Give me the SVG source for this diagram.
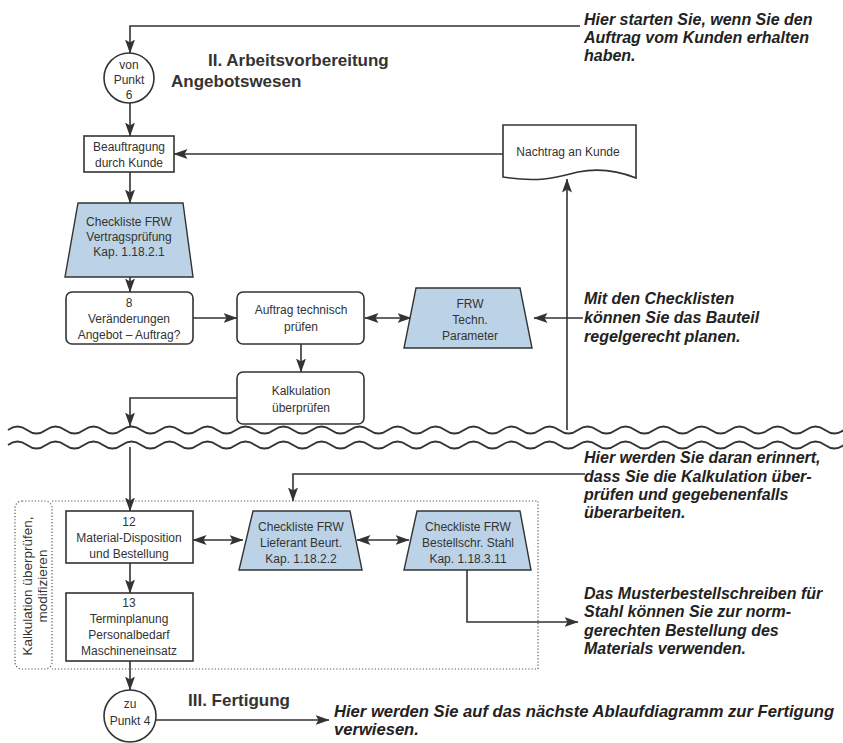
<svg xmlns="http://www.w3.org/2000/svg" width="843" height="743" viewBox="0 0 843 743">
<defs>
<style>
.ln{fill:none;stroke:#333;stroke-width:1.6}
.box{fill:#fff;stroke:#333;stroke-width:1.6}
.chk{fill:#bcd3e7;stroke:#333;stroke-width:1.4}
.dot{fill:none;stroke:#555;stroke-width:1.2;stroke-dasharray:1.2 2}
.t{font-family:"Liberation Sans",Arial,sans-serif;font-size:12px;fill:#333;text-anchor:middle}
.side{font-size:13.5px}
.h{font-family:"Liberation Sans",Arial,sans-serif;font-size:17px;font-weight:bold;fill:#333}
.n{font-family:"Liberation Sans",Arial,sans-serif;font-size:16px;font-weight:bold;font-style:italic;fill:#222}
.nb{font-size:16.6px}
.wave{fill:none;stroke:#333;stroke-width:1.8}
</style>
<marker id="ah" viewBox="0 0 14 10" refX="13.5" refY="5" markerWidth="14" markerHeight="10" markerUnits="userSpaceOnUse" orient="auto-start-reverse">
<path d="M0,0 L14,5 L0,10 L3,5 Z" fill="#333"/>
</marker>
</defs>
<rect width="843" height="743" fill="#fff"/>

<g id="waves">
<path class="wave" d="M8,430 q9.5,-7 19,0 t19,0 t19,0 t19,0 t19,0 t19,0 t19,0 t19,0 t19,0 t19,0 t19,0 t19,0 t19,0 t19,0 t19,0 t19,0 t19,0 t19,0 t19,0 t19,0 t19,0 t19,0 t19,0 t19,0 t19,0 t19,0 t19,0 t19,0 t19,0 t19,0 t19,0 t19,0 t19,0 t19,0 t19,0 t19,0 t19,0 t19,0 t19,0 t19,0 t19,0 t19,0 t19,0 t19,0"/>
<path class="wave" d="M8,445 q9.5,-7 19,0 t19,0 t19,0 t19,0 t19,0 t19,0 t19,0 t19,0 t19,0 t19,0 t19,0 t19,0 t19,0 t19,0 t19,0 t19,0 t19,0 t19,0 t19,0 t19,0 t19,0 t19,0 t19,0 t19,0 t19,0 t19,0 t19,0 t19,0 t19,0 t19,0 t19,0 t19,0 t19,0 t19,0 t19,0 t19,0 t19,0 t19,0 t19,0 t19,0 t19,0 t19,0 t19,0 t19,0"/>
</g>

<g id="dotted-area">
<rect class="dot" x="15" y="501" width="37" height="168" rx="7"/>
<path class="dot" d="M52,501 H538 V669 H52"/>
<text class="t side" transform="translate(32,586) rotate(-90)">Kalkulation überprüfen,</text>
<text class="t side" transform="translate(47,586) rotate(-90)">modifizieren</text>
</g>

<g id="connectors">
<path class="ln" d="M580,26 H130 V53" marker-end="url(#ah)"/>
<path class="ln" d="M130,103 V136" marker-end="url(#ah)"/>
<path class="ln" d="M503,154 H174" marker-end="url(#ah)"/>
<path class="ln" d="M130,172 V203" marker-end="url(#ah)"/>
<path class="ln" d="M130,277 V292" marker-end="url(#ah)"/>
<path class="ln" d="M193,318 H237" marker-end="url(#ah)"/>
<path class="ln" d="M365,318 H411" marker-start="url(#ah)" marker-end="url(#ah)"/>
<path class="ln" d="M583,318 H534" marker-end="url(#ah)"/>
<path class="ln" d="M301,344 V372" marker-end="url(#ah)"/>
<path class="ln" d="M237,398 H130 V426" marker-end="url(#ah)"/>
<path class="ln" d="M567,430 V179" marker-end="url(#ah)"/>
<path class="ln" d="M130,447 V511" marker-end="url(#ah)"/>
<path class="ln" d="M193,540 H243" marker-start="url(#ah)" marker-end="url(#ah)"/>
<path class="ln" d="M357,540 H409" marker-start="url(#ah)" marker-end="url(#ah)"/>
<path class="ln" d="M585,474 H293 V501" marker-end="url(#ah)"/>
<path class="ln" d="M130,563 V593" marker-end="url(#ah)"/>
<path class="ln" d="M130,661 V690" marker-end="url(#ah)"/>
<path class="ln" d="M467,570 V622 H578" marker-end="url(#ah)"/>
<path class="ln" d="M156,720 H329" marker-end="url(#ah)"/>
</g>

<g id="titles">
<text class="h" x="208" y="66">II. Arbeitsvorbereitung</text>
<text class="h" x="171" y="87">Angebotswesen</text>
<text class="h" x="188" y="706">III. Fertigung</text>
</g>

<g id="von-punkt-6">
<circle class="box" cx="129" cy="78" r="25"/>
<text class="t" x="129" y="69">von</text>
<text class="t" x="129" y="84">Punkt</text>
<text class="t" x="129" y="99">6</text>
</g>

<g id="beauftragung">
<rect class="box" x="84" y="136" width="90" height="36"/>
<text class="t" x="129" y="151">Beauftragung</text>
<text class="t" x="129" y="167">durch Kunde</text>
</g>

<g id="nachtrag">
<path class="box" d="M503,125 H636 V178 C616,170 598,168 578,172 C558,177 540,183 503,177 Z"/>
<text class="t" x="568" y="156">Nachtrag an Kunde</text>
</g>

<g id="checkliste-vertrag">
<polygon class="chk" points="78,203 183,203 193,277 65,277"/>
<text class="t" x="129" y="226">Checkliste FRW</text>
<text class="t" x="129" y="241">Vertragsprüfung</text>
<text class="t" x="129" y="256">Kap. 1.18.2.1</text>
</g>

<g id="veraenderungen">
<rect class="box" x="66" y="292" width="127" height="52" rx="6"/>
<text class="t" x="129" y="307">8</text>
<text class="t" x="129" y="323">Veränderungen</text>
<text class="t" x="129" y="339">Angebot – Auftrag?</text>
</g>

<g id="auftrag-pruefen">
<rect class="box" x="237" y="292" width="127" height="52" rx="6"/>
<text class="t" x="301" y="314">Auftrag technisch</text>
<text class="t" x="301" y="331">prüfen</text>
</g>

<g id="frw-techn">
<polygon class="chk" points="416,288 520,288 532,348 404,348"/>
<text class="t" x="470" y="308">FRW</text>
<text class="t" x="470" y="324">Techn.</text>
<text class="t" x="470" y="340">Parameter</text>
</g>

<g id="kalkulation">
<rect class="box" x="237" y="372" width="127" height="52" rx="6"/>
<text class="t" x="301" y="395">Kalkulation</text>
<text class="t" x="301" y="412">überprüfen</text>
</g>

<g id="material">
<rect class="box" x="66" y="511" width="127" height="52"/>
<text class="t" x="129" y="526">12</text>
<text class="t" x="129" y="542">Material-Disposition</text>
<text class="t" x="129" y="558">und Bestellung</text>
</g>

<g id="checkliste-lieferant">
<polygon class="chk" points="253,511 350,511 362,570 239,570"/>
<text class="t" x="301" y="531">Checkliste FRW</text>
<text class="t" x="301" y="547">Lieferant Beurt.</text>
<text class="t" x="301" y="563">Kap. 1.18.2.2</text>
</g>

<g id="checkliste-bestell">
<polygon class="chk" points="417,511 520,511 531,570 404,570"/>
<text class="t" x="468" y="531">Checkliste FRW</text>
<text class="t" x="468" y="547">Bestellschr. Stahl</text>
<text class="t" x="468" y="563">Kap. 1.18.3.11</text>
</g>

<g id="terminplanung">
<rect class="box" x="66" y="593" width="127" height="68"/>
<text class="t" x="129" y="607">13</text>
<text class="t" x="129" y="623">Terminplanung</text>
<text class="t" x="129" y="639">Personalbedarf</text>
<text class="t" x="129" y="655">Maschineneinsatz</text>
</g>

<g id="zu-punkt-4">
<circle class="box" cx="130" cy="716" r="26"/>
<text class="t" x="130" y="708">zu</text>
<text class="t" x="130" y="725">Punkt 4</text>
</g>

<g id="notes">
<text class="n" x="584" y="25">Hier starten Sie, wenn Sie den</text>
<text class="n" x="584" y="43">Auftrag vom Kunden erhalten</text>
<text class="n" x="584" y="61">haben.</text>
<text class="n" x="584" y="304">Mit den Checklisten</text>
<text class="n" x="584" y="323">können Sie das Bauteil</text>
<text class="n" x="584" y="342">regelgerecht planen.</text>
<text class="n" x="584" y="463">Hier werden Sie daran erinnert,</text>
<text class="n" x="584" y="482">dass Sie die Kalkulation über-</text>
<text class="n" x="584" y="500">prüfen und gegebenenfalls</text>
<text class="n" x="584" y="518">überarbeiten.</text>
<text class="n" x="584" y="599">Das Musterbestellschreiben für</text>
<text class="n" x="584" y="617">Stahl können Sie zur norm-</text>
<text class="n" x="584" y="636">gerechten Bestellung des</text>
<text class="n" x="584" y="654">Materials verwenden.</text>
<text class="n nb" x="334" y="717">Hier werden Sie auf das nächste Ablaufdiagramm zur Fertigung</text>
<text class="n nb" x="334" y="735">verwiesen.</text>
</g>
</svg>
